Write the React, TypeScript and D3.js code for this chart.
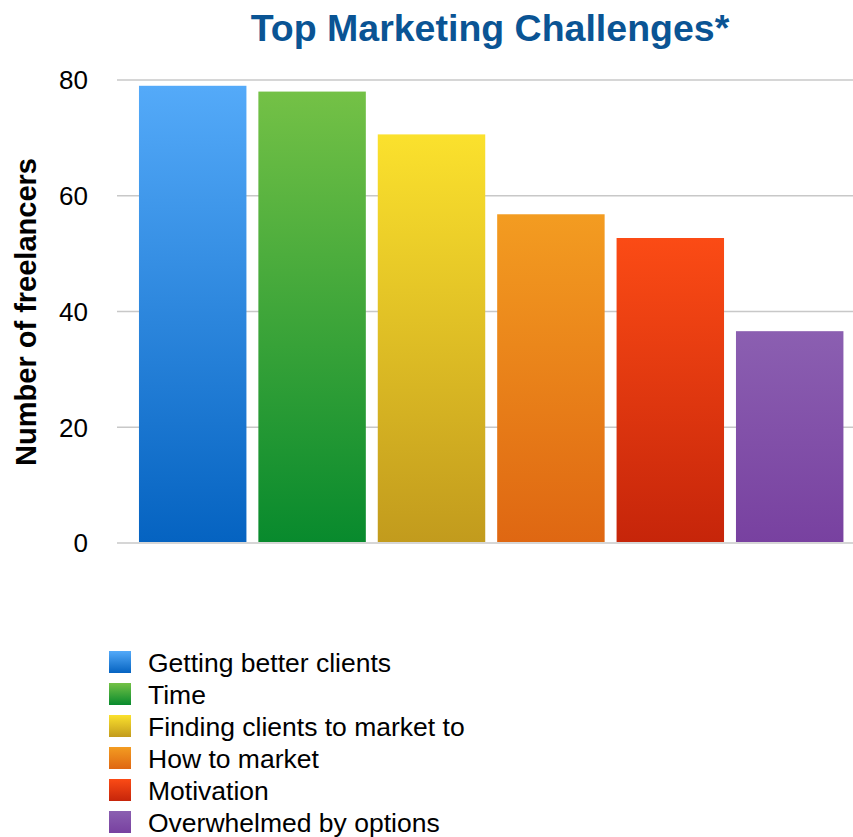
import React from "react";
import * as d3 from "d3";

const categories = [
  "Getting better clients",
  "Time",
  "Finding clients to market to",
  "How to market",
  "Motivation",
  "Overwhelmed by options",
];
const values = [79, 78, 70.6, 56.8, 52.7, 36.6];
const topColors = ["#54aaf9", "#74c146", "#fbe12d", "#f39c21", "#fb4b15", "#8b5fb1"];
const bottomColors = ["#0563c1", "#088a2d", "#c29b1d", "#df6712", "#c6250a", "#7841a0"];
const yTicks = [0, 20, 40, 60, 80];

const W = 853;
const H = 837;
const FONT = "'Liberation Sans', Arial, Helvetica, sans-serif";

const App = () => {
  const x = d3
    .scaleBand<string>()
    .domain(categories)
    .range([133, 849.4])
    .paddingInner(0.1)
    .paddingOuter(0.05);

  const y = d3.scaleLinear().domain([0, 80]).range([543, 80]);

  const legendY = d3
    .scaleBand<string>()
    .domain(categories)
    .range([651, 651 + 32 * categories.length]);

  return (
    <svg
      width={W}
      height={H}
      style={{ position: "absolute", left: 0, top: 0, background: "#fff" }}
      fontFamily={FONT}
    >
      <defs>
        {categories.map((c, i) => (
          <linearGradient key={c} id={`grad-${i}`} x1="0" y1="0" x2="0" y2="1">
            <stop offset="0%" stopColor={topColors[i]} />
            <stop offset="100%" stopColor={bottomColors[i]} />
          </linearGradient>
        ))}
      </defs>

      <text
        x={490}
        y={41}
        textAnchor="middle"
        fontSize={37.5}
        fontWeight="bold"
        fill="#0a5494"
      >
        Top Marketing Challenges*
      </text>

      {/* gridlines + tick labels */}
      <g>
        {yTicks.map((t) => (
          <g key={t}>
            <line
              x1={117}
              x2={W}
              y1={y(t)}
              y2={y(t)}
              stroke="#c8c8c8"
              strokeWidth={1.5}
            />
            <text
              x={88}
              y={y(t)}
              dy="0.36em"
              textAnchor="end"
              fontSize={26}
              fill="#000"
            >
              {t}
            </text>
          </g>
        ))}
      </g>

      <text
        transform={`translate(36, 312) rotate(-90)`}
        textAnchor="middle"
        fontSize={29}
        fontWeight="bold"
        fill="#000"
      >
        Number of freelancers
      </text>

      <g>
        {categories.map((c, i) => (
          <rect
            key={c}
            x={x(c)}
            y={y(values[i])}
            width={x.bandwidth()}
            height={y(0) - y(values[i]) - 1}
            fill={`url(#grad-${i})`}
          />
        ))}
      </g>

      <g>
        {categories.map((c, i) => (
          <g key={c} transform={`translate(109, ${legendY(c)})`}>
            <rect width={22} height={22} fill={`url(#grad-${i})`} />
            <text x={39} y={11} dy="0.36em" fontSize={26.5} fill="#000">
              {c}
            </text>
          </g>
        ))}
      </g>
    </svg>
  );
};

export default App;
